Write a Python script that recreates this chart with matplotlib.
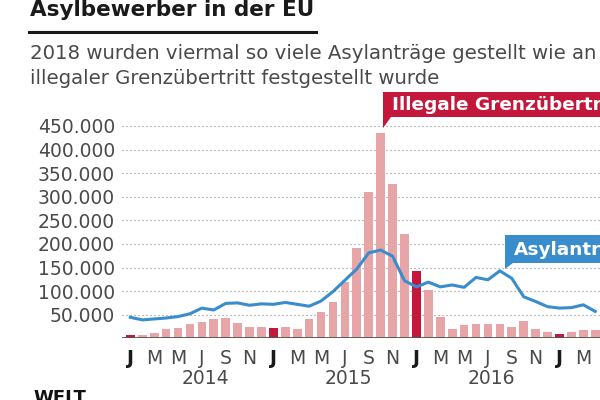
import numpy as np
import matplotlib.pyplot as plt
from matplotlib.patches import Polygon

# monthly values, Jan 2014 .. Apr 2017
months = ['J', 'F', 'M', 'A', 'M', 'J', 'J', 'A', 'S', 'O', 'N', 'D'] * 3 + ['J', 'F', 'M', 'A']
years = ['2014', '2015', '2016']

# illegale Grenzuebertritte (bars)
crossings = [6400, 7800, 12000, 20000, 21000, 30000, 34000, 40000, 42000, 32500, 25000, 25000,
             21000, 25000, 19000, 40000, 55000, 76000, 119000, 191000, 311000, 436000, 326000, 222000,
             143000, 102000, 45000, 20000, 27500, 31000, 30000, 30000, 25000, 37000, 19000, 14000,
             10000, 14000, 17000, 18000]

# Asylantraege (line)
asylum = [44500, 39000, 41000, 43000, 46000, 52000, 64000, 60000, 74000, 75000, 70000, 73000,
          72000, 76000, 72000, 68000, 79000, 99000, 123000, 147000, 181000, 187000, 174000, 122000,
          109000, 119000, 109000, 113000, 108000, 129000, 124000, 143000, 127000, 88000, 78000, 67000,
          64000, 65000, 71000, 57000]

yticks = [50000, 100000, 150000, 200000, 250000, 300000, 350000, 400000, 450000]
ytick_labels = ['50.000', '100.000', '150.000', '200.000', '250.000', '300.000',
                '350.000', '400.000', '450.000']

light = '#e8a5a7'
dark = '#c3173c'
blue = '#3a8dcc'
grey = '#4a4a4a'

plt.rcParams['font.family'] = ['DejaVu Sans']

fig = plt.figure(figsize=(6, 4), dpi=100)
W, H = 600, 400


def fx(px):
    return px / W


def fy(py):
    return 1 - py / H


ax = fig.add_axes([fx(122), fy(338.3), fx(600) - fx(122), fy(116.5) - fy(338.3)])

x = np.arange(len(crossings))
colors = [dark if i % 12 == 0 else light for i in x]
ax.bar(x, crossings, width=0.73, color=colors, zorder=2)
ax.plot(x, asylum, color=blue, lw=2.2, zorder=3, solid_joinstyle='round')

ax.set_xlim(-0.7, 39.4)
ax.set_ylim(0, 470000)

for v in yticks:
    ax.axhline(v, color='#8a8a8a', lw=0.8, ls=(0, (1, 2.6)), zorder=1)
ax.axhline(0, color='#555555', lw=1.3, zorder=4)

for s in ax.spines.values():
    s.set_visible(False)

ax.set_yticks(yticks)
ax.set_yticklabels(ytick_labels, fontsize=13.5, color=grey)
ax.tick_params(axis='y', length=0, pad=5)

xt = x[::2]
ax.set_xticks(xt)
ax.set_xticklabels([months[i] for i in xt], fontsize=13.5)
ax.tick_params(axis='x', length=0, pad=8)
for i, lab in zip(xt, ax.get_xticklabels()):
    if i % 12 == 0:
        lab.set_fontweight('bold')
        lab.set_color('#1a1a1a')
    else:
        lab.set_color(grey)

for k, yr in enumerate(years):
    ax.text(12 * k + 6.3, -0.18, yr, transform=ax.get_xaxis_transform(),
            ha='center', va='center', fontsize=13.5, color=grey)

# title, rule and subtitle
fig.text(fx(30), fy(16.5), 'Asylbewerber in der EU', fontsize=15.5, fontweight='bold',
         color='#1a1a1a', va='baseline')
fig.add_artist(plt.Line2D([fx(29), fx(316)], [fy(31.5), fy(31.5)], color='#1a1a1a', lw=2.2))
fig.text(fx(30), fy(59), '2018 wurden viermal so viele Asylanträge gestellt wie an',
         fontsize=14.2, color=grey, va='baseline')
fig.text(fx(30), fy(84), 'illegaler Grenzübertritt festgestellt wurde',
         fontsize=14.2, color=grey, va='baseline')


def label_box(x0, y0, y1, tip, text, color):
    box = Polygon([(fx(x0), fy(y0)), (fx(620), fy(y0)), (fx(620), fy(y1)),
                   (fx(x0 + 8), fy(y1)), (fx(x0), fy(tip)), (fx(x0), fy(y0))],
                  closed=True, transform=fig.transFigure, facecolor=color,
                  edgecolor='none', zorder=5)
    fig.add_artist(box)
    fig.text(fx(x0 + 9), fy((y0 + y1) / 2 + 1), text, fontsize=13.3, fontweight='bold',
             color='white', va='center', zorder=6)


label_box(383, 92, 117, 128, 'Illegale Grenzübertritte', dark)
label_box(505, 235, 263, 269, 'Asylanträge', blue)

fig.text(fx(33), fy(389), 'WELT', fontsize=13, fontweight='bold', color='#111111', va='top')

fig.savefig('out.png', dpi=100)
